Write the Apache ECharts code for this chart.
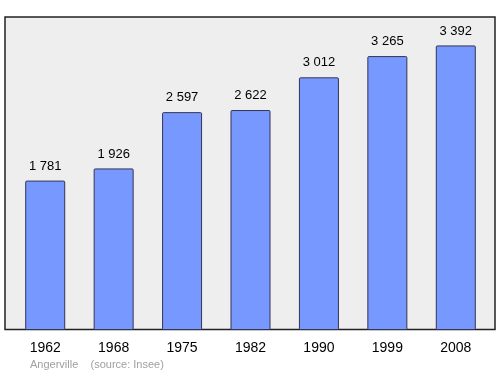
<!DOCTYPE html>
<html><head><meta charset="utf-8">
<script src="https://cdn.jsdelivr.net/npm/echarts@6/dist/echarts.min.js"></script>
<style>html,body{margin:0;padding:0;background:#fff}#c{width:500px;height:374px}</style>
</head><body><div id="c"></div>
<script>
const years = ['1962','1968','1975','1982','1990','1999','2008'];
const population = [1781, 1926, 2597, 2622, 3012, 3265, 3392];
const footer = 'Angerville    (source: Insee)';

const fmt = v => String(v).replace(/\B(?=(\d{3})+(?!\d))/g, ' ');
const chart = echarts.init(document.getElementById('c'), null, {renderer: 'canvas'});
chart.setOption({
  animation: false,
  textStyle: {fontFamily: 'Liberation Sans, Arial, sans-serif'},
  grid: {left: 11, right: 10, top: 17, bottom: 44},
  graphic: [
    {type: 'rect', z: 0, shape: {x: 5, y: 17, width: 490, height: 312.5},
     style: {fill: '#eeeeee', stroke: '#222222', lineWidth: 1.5}},
    {type: 'text', z: 10, left: 30, top: 359,
     style: {text: footer, fill: '#a0a0a0', font: '11px Liberation Sans, Arial, sans-serif'}}
  ],
  xAxis: {
    type: 'category', data: years, boundaryGap: true,
    axisLine: {show: false}, axisTick: {show: false},
    axisLabel: {color: '#000', fontSize: 14, margin: 11}
  },
  yAxis: {type: 'value', min: 0, max: 3731, show: false, splitLine: {show: false}},
  series: [{
    type: 'bar', data: population, barWidth: 40, z: 5,
    itemStyle: {color: '#7799ff', borderColor: '#333355', borderWidth: 1, borderRadius: 1},
    label: {show: true, position: 'top', distance: 8, color: '#000', fontSize: 13,
            formatter: p => fmt(p.value)}
  }]
});
</script></body></html>
